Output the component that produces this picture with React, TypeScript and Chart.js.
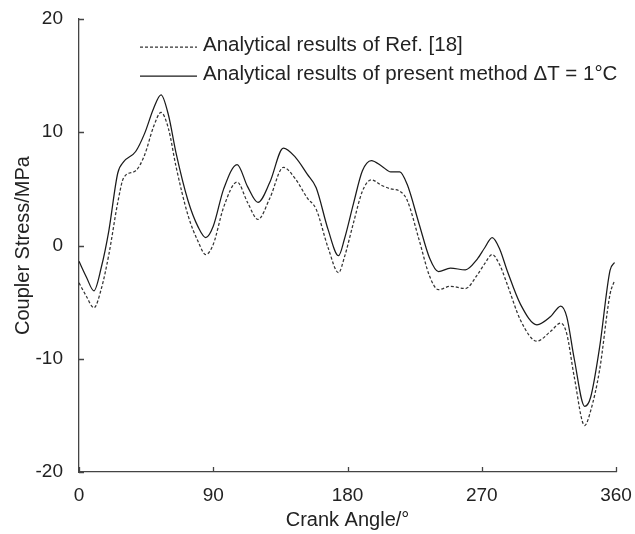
import React, { useEffect, useRef } from "react";
import { Chart, registerables } from "chart.js";

Chart.register(...registerables);

// Crank angle (degrees) at which both stress curves are sampled
const angles = [
  0, 5, 10, 15, 20, 26, 30, 38, 44, 50, 55, 60, 65, 73, 80, 85, 90, 97, 106, 113,
  120, 128, 137, 145, 153, 159, 167, 174, 178, 184, 190, 196, 203, 209, 215, 220,
  228, 235, 241, 249, 259, 267, 272, 277, 282, 287, 296, 307, 316, 323, 327, 332,
  339, 343, 349, 356, 359,
];

// Coupler stress (MPa), analytical results of Ref. [18]
const refStress = [
  -3.3, -4.5, -5.5, -3.8, -0.8, 3.8, 6.0, 6.6, 8.0, 10.5, 11.75, 10.3, 7.0, 2.7, 0.3, -0.8, 0.1, 3.4, 5.6, 3.8,
  2.3, 4.2, 6.9, 5.9, 4.2, 3.2, -0.2, -2.4, -1.0, 2.0, 4.8, 5.8, 5.3, 5.0, 4.8, 4.0,
  0.5, -2.7, -3.9, -3.6, -3.8, -2.6, -1.6, -0.8, -1.7, -3.4, -6.6, -8.45, -7.6, -6.85, -7.8, -11.6,
  -15.9, -14.6, -11.0, -4.3, -3.1,
];

// Coupler stress (MPa), present method with ΔT = 1°C
const presentStress = [
  -1.4, -2.8, -4.0, -1.9, 1.3, 6.4, 7.4, 8.3, 9.9, 12.1, 13.3, 11.5, 8.2, 4.0, 1.6, 0.7, 1.7, 5.0, 7.15, 5.2,
  3.8, 5.6, 8.6, 7.8, 6.3, 5.1, 1.4, -0.9, 0.6, 3.7, 6.6, 7.5, 7.0, 6.5, 6.5, 5.4,
  1.9, -1.1, -2.3, -2.0, -2.15, -1.2, -0.2, 0.7, -0.3, -2.2, -5.2, -7.0, -6.3, -5.35, -6.3, -10.0,
  -14.2, -13.4, -9.0, -2.2, -1.5,
];

const xTicks = [0, 90, 180, 270, 360];
const yTicks = [-20, -10, 0, 10, 20];

const seriesLabels = [
  "Analytical results of Ref. [18]",
  "Analytical results of present method \u0394T = 1\u00b0C",
];

const FONT = "'Liberation Sans', Arial, Helvetica, sans-serif";
const INK = "#222";
const AXIS = "#444";

// Short tick marks pointing into the plot area
const inwardTicks = {
  id: "inwardTicks",
  afterDraw(chart: any) {
    const { ctx, chartArea, scales } = chart;
    ctx.save();
    ctx.strokeStyle = AXIS;
    ctx.lineWidth = 1.3;
    ctx.beginPath();
    xTicks.forEach((v) => {
      const x = Math.round(scales.x.getPixelForValue(v)) + 0.5;
      ctx.moveTo(x, chartArea.bottom);
      ctx.lineTo(x, chartArea.bottom - 5);
    });
    yTicks.forEach((v) => {
      const y = Math.round(scales.y.getPixelForValue(v)) + 0.5;
      ctx.moveTo(chartArea.left, y);
      ctx.lineTo(chartArea.left + 5, y);
    });
    ctx.stroke();
    ctx.restore();
  },
};

// Legend inside the plot, line sample followed by the series name
const innerLegend = {
  id: "innerLegend",
  afterDraw(chart: any) {
    const { ctx, chartArea } = chart;
    const x0 = chartArea.left + 61;
    const x1 = chartArea.left + 118;
    const tx = chartArea.left + 124;
    const rows = [chartArea.top + 26, chartArea.top + 55];
    ctx.save();
    chart.data.datasets.forEach((ds: any, i: number) => {
      const y = rows[i];
      ctx.beginPath();
      ctx.strokeStyle = ds.borderColor;
      ctx.lineWidth = ds.borderWidth;
      ctx.setLineDash(ds.borderDash || []);
      ctx.moveTo(x0, y + 2);
      ctx.lineTo(x1, y + 2);
      ctx.stroke();
      ctx.setLineDash([]);
      ctx.fillStyle = INK;
      ctx.font = `20.5px ${FONT}`;
      ctx.textBaseline = "middle";
      ctx.textAlign = "left";
      ctx.fillText(ds.label, tx, y);
    });
    ctx.restore();
  },
};

// Let tick labels spill into the outer padding instead of shrinking the plot
const noOverflow = (scale: any) => {
  scale.paddingTop = 0;
  scale.paddingBottom = 0;
  scale.paddingLeft = 0;
  scale.paddingRight = 0;
};

export default function App() {
  const canvasRef = useRef<HTMLCanvasElement | null>(null);

  useEffect(() => {
    document.body.style.margin = "0";
    const canvas = canvasRef.current;
    if (!canvas) return;

    const chart = new Chart(canvas, {
      type: "line",
      data: {
        datasets: [
          {
            label: seriesLabels[0],
            data: angles.map((a, i) => ({ x: a, y: refStress[i] })),
            borderColor: "#333",
            borderWidth: 1.25,
            borderDash: [3, 2],
            pointRadius: 0,
            tension: 0.4,
            cubicInterpolationMode: "monotone",
            fill: false,
          },
          {
            label: seriesLabels[1],
            data: angles.map((a, i) => ({ x: a, y: presentStress[i] })),
            borderColor: "#1a1a1a",
            borderWidth: 1.25,
            pointRadius: 0,
            tension: 0.4,
            cubicInterpolationMode: "monotone",
            fill: false,
          },
        ],
      },
      options: {
        animation: false,
        responsive: false,
        maintainAspectRatio: false,
        layout: { padding: { left: 0, top: 19, right: 19, bottom: 0 } },
        plugins: {
          legend: { display: false },
          tooltip: { enabled: false },
        },
        scales: {
          x: {
            type: "linear",
            min: 0,
            max: 360,
            afterBuildTicks(scale: any) {
              scale.ticks = xTicks.map((v) => ({ value: v }));
            },
            afterFit(scale: any) {
              scale.height = 62;
              noOverflow(scale);
            },
            grid: { display: false, drawTicks: false, tickLength: 0 },
            border: { display: true, color: AXIS, width: 1.3 },
            ticks: {
              padding: 12,
              color: INK,
              font: { family: FONT, size: 19 },
              maxRotation: 0,
            },
            title: {
              display: true,
              text: "Crank Angle/\u00b0",
              color: INK,
              font: { family: FONT, size: 20 },
              padding: { top: 0, bottom: 2 },
            },
          },
          y: {
            type: "linear",
            min: -20,
            max: 20,
            afterBuildTicks(scale: any) {
              scale.ticks = yTicks.map((v) => ({ value: v }));
            },
            afterFit(scale: any) {
              scale.width = 79;
              noOverflow(scale);
            },
            grid: { display: false, drawTicks: false, tickLength: 0 },
            border: { display: true, color: AXIS, width: 1.3 },
            ticks: {
              padding: 16,
              color: INK,
              font: { family: FONT, size: 19 },
            },
            title: {
              display: true,
              text: "Coupler Stress/MPa",
              color: INK,
              font: { family: FONT, size: 20 },
              padding: { top: 11, bottom: 0 },
            },
          },
        },
      },
      plugins: [inwardTicks, innerLegend],
    });

    return () => chart.destroy();
  }, []);

  return (
    <div style={{ position: "relative", width: 635, height: 534, background: "#fff" }}>
      <canvas ref={canvasRef} width={635} height={534} style={{ display: "block" }} />
    </div>
  );
}
